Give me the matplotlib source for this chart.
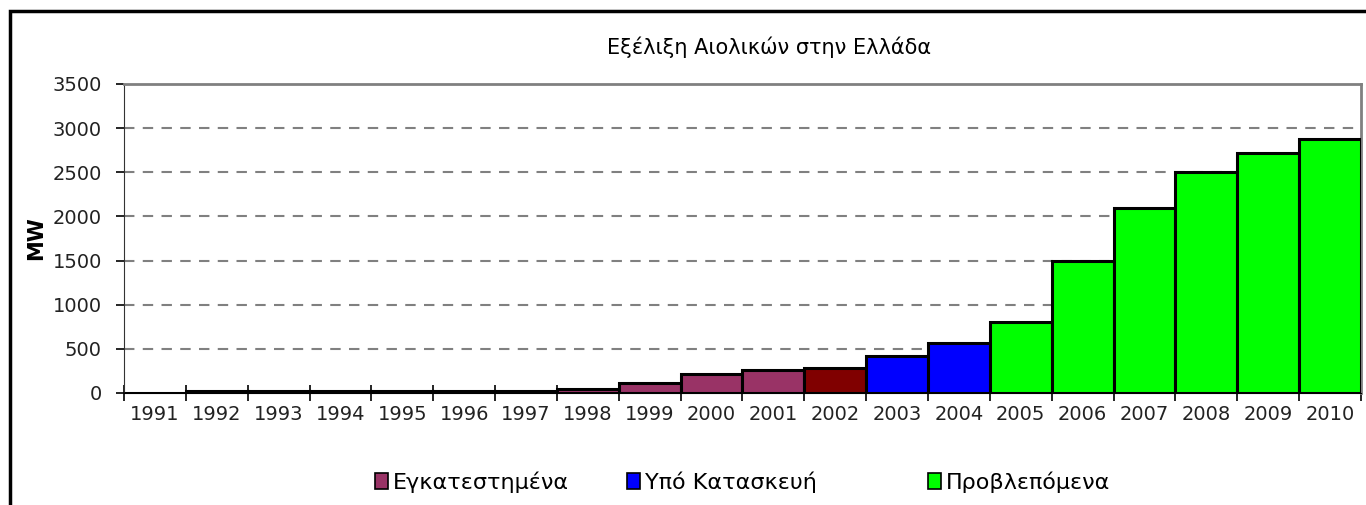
import matplotlib.pyplot as plt
from matplotlib.patches import Patch, Rectangle
import numpy as np

plt.rcParams['font.family'] = ['DejaVu Sans']

# Installed wind capacity in Greece (MW), actual + planned
years = ['1991', '1992', '1993', '1994', '1995', '1996', '1997', '1998', '1999', '2000',
         '2001', '2002', '2003', '2004', '2005', '2006', '2007', '2008', '2009', '2010']
mw = [0, 27, 27, 27, 27, 27, 27, 40, 110, 210,
      260, 280, 420, 570, 800, 1500, 2100, 2500, 2720, 2880]
status = ['inst'] * 11 + ['inst2'] + ['build'] * 2 + ['plan'] * 6

colors = {'inst': '#993366', 'inst2': '#800000', 'build': '#0000FF', 'plan': '#00FF00'}
legend_labels = ['Εγκατεστημένα', 'Υπό Κατασκευή', 'Προβλεπόμενα']
legend_keys = ['inst', 'build', 'plan']
legend_x = [375, 627, 928]   # left edge of each legend entry, px

fig = plt.figure(figsize=(13.66, 5.05), dpi=100)
ax = fig.add_axes([0.0908, 0.2218, 0.9055, 0.6119])

x = np.arange(len(years))
ax.bar(x, mw, width=1.0, color=[colors[s] for s in status],
       edgecolor='black', linewidth=2.2, zorder=3)

ax.set_xlim(-0.5, len(years) - 0.5)
ax.set_ylim(0, 3500)
ax.set_yticks(np.arange(0, 3501, 500))
for v in range(500, 3500, 500):
    ax.axhline(v, color='#808080', lw=1.5, ls=(0, (5, 4)), zorder=1)

# ticks on category boundaries, labels in the middle
ax.set_xticks(np.arange(-0.5, len(years), 1.0))
ax.set_xticklabels([])
ax.set_xticks(x, minor=True)
ax.set_xticklabels(years, minor=True)
ax.tick_params(axis='x', which='major', direction='inout', length=12, width=1.2)
ax.tick_params(axis='x', which='minor', length=0, pad=9, labelsize=14, labelcolor='#222222')
ax.tick_params(axis='y', direction='out', length=6, width=1.2, labelsize=14,
               labelcolor='#222222', pad=10)

ax.spines['top'].set_color('#808080')
ax.spines['top'].set_linewidth(2)
ax.spines['right'].set_color('#808080')
ax.spines['right'].set_linewidth(2)
ax.spines['left'].set_color('#333333')
ax.spines['bottom'].set_color('black')

ax.set_ylabel('MW', fontsize=15, fontweight='bold', labelpad=2)
ax.yaxis.set_label_coords(-0.063, 0.50)

fig.text(769 / 1366, 1 - 47 / 505, 'Εξέλιξη Αιολικών στην Ελλάδα',
         ha='center', va='center', fontsize=15)

for key, label, lx in zip(legend_keys, legend_labels, legend_x):
    h = Patch(facecolor=colors[key], edgecolor='black', linewidth=1.2)
    fig.legend([h], [label], loc='center left',
               bbox_to_anchor=(lx / 1366, 1 - 482 / 505), frameon=False,
               fontsize=16, handlelength=0.6, handleheight=0.7, handletextpad=0.2,
               borderpad=0, borderaxespad=0)

# outer chart frame
fig.patches.append(Rectangle((10 / 1366, -0.05), 1.2, 1 - 11 / 505 + 0.05,
                             transform=fig.transFigure, fill=False,
                             edgecolor='black', linewidth=2.5))

fig.savefig('out.png', dpi=100)
